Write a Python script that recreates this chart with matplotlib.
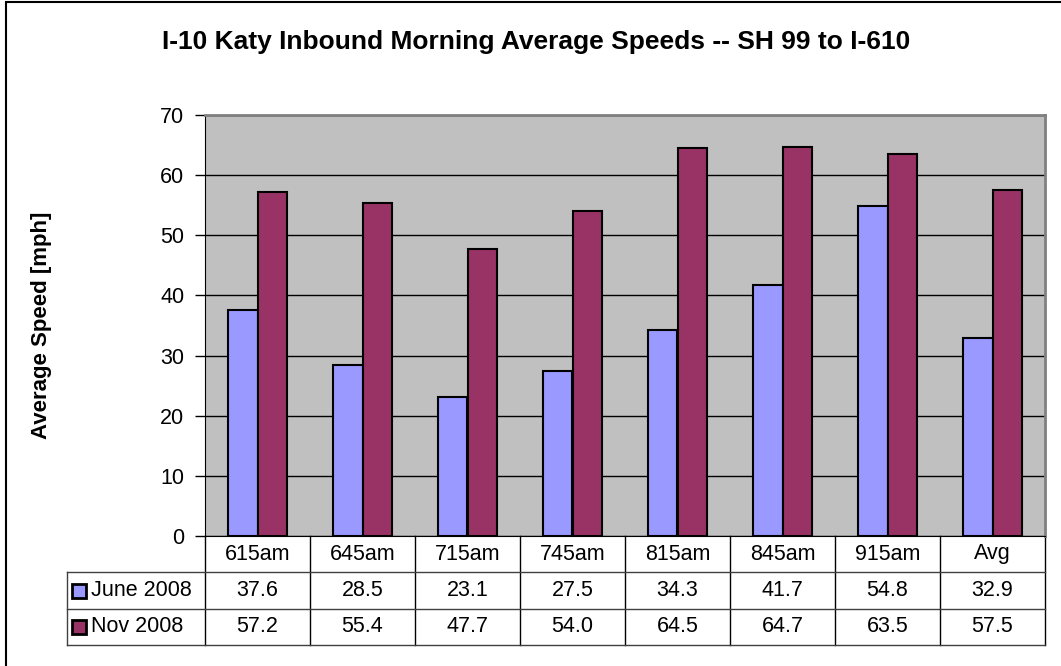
import numpy as np
import matplotlib.pyplot as plt
from matplotlib.transforms import blended_transform_factory
from matplotlib.patches import Rectangle

plt.rcParams['font.family'] = ['Liberation Sans', 'DejaVu Sans']

# dados
categorias = ['615am', '645am', '715am', '745am', '815am', '845am', '915am', 'Avg']
june_2008 = [37.6, 28.5, 23.1, 27.5, 34.3, 41.7, 54.8, 32.9]
nov_2008 = [57.2, 55.4, 47.7, 54.0, 64.5, 64.7, 63.5, 57.5]
series_nomes = ['June 2008', 'Nov 2008']
cores = ['#9999FF', '#993366']

W, H = 1061, 666
fs = 15.5
fig = plt.figure(figsize=(W / 100, H / 100), dpi=100)

# área do gráfico em pixels
px_left, px_right, px_top, px_bottom = 205, 1045, 115, 536
ax = fig.add_axes([px_left / W, 1 - px_bottom / H,
                   (px_right - px_left) / W, (px_bottom - px_top) / H])
ax.set_facecolor('#C0C0C0')

x = np.arange(len(categorias))
larg = 0.28
for i, (vals, cor) in enumerate(zip([june_2008, nov_2008], cores)):
    ax.bar(x + (i - 0.5) * larg, vals, larg, color=cor, edgecolor='black',
           linewidth=1.5, zorder=3)

ax.set_xlim(-0.5, len(categorias) - 0.5)
ax.set_ylim(0, 70)
ax.set_yticks(range(0, 71, 10))
ax.yaxis.grid(True, color='black', linewidth=1)
ax.set_axisbelow(True)
ax.set_xticks([])
ax.tick_params(axis='y', direction='out', length=7, width=1, labelsize=fs, pad=8)

for lado in ['top', 'right']:
    ax.spines[lado].set_color('#808080')
    ax.spines[lado].set_linewidth(2)
ax.spines['left'].set_color('black')
ax.spines['bottom'].set_color('black')

fig.text(42 / W, 1 - 325 / H, 'Average Speed [mph]', rotation=90,
         ha='center', va='center', fontsize=16, fontweight='bold')

fig.text(536 / W, 1 - 42 / H,
         'I-10 Katy Inbound Morning Average Speeds -- SH 99 to I-610',
         ha='center', va='center', fontsize=19, fontweight='bold')

# tabela de dados abaixo do gráfico
trans = blended_transform_factory(ax.transData, fig.transFigure)
fy = lambda py: 1 - py / H
linhas_y = [536, 572, 609, 645]
lbl_left = 67

# linhas verticais entre categorias
for k in range(len(categorias) + 1):
    xb = k - 0.5
    ax.plot([xb, xb], [fy(536), fy(645)], transform=trans, color='black',
            linewidth=1, clip_on=False)
# linhas horizontais
for py in linhas_y[1:]:
    fig.add_artist(plt.Line2D([lbl_left / W, px_right / W], [fy(py), fy(py)],
                              color='#404040', linewidth=1))
fig.add_artist(plt.Line2D([lbl_left / W, lbl_left / W], [fy(572), fy(645)],
                          color='#404040', linewidth=1))

# cabeçalho
for k, cat in enumerate(categorias):
    ax.text(k, fy((536 + 572) / 2), cat, transform=trans, ha='center',
            va='center', fontsize=fs)

# valores das séries
for r, (nome, vals, cor) in enumerate(zip(series_nomes, [june_2008, nov_2008], cores)):
    yc = fy((linhas_y[r + 1] + linhas_y[r + 2]) / 2)
    for k, v in enumerate(vals):
        ax.text(k, yc, f'{v:.1f}', transform=trans, ha='center', va='center',
                fontsize=fs)
    fig.add_artist(Rectangle((72 / W, yc - 7 / H), 14 / W, 14 / H,
                             transform=fig.transFigure, facecolor=cor,
                             edgecolor='black', linewidth=2))
    fig.text(91 / W, yc, nome, ha='left', va='center', fontsize=fs)

# borda externa
fig.add_artist(Rectangle((6 / W, -0.1), 1.2, 1 - 2 / H + 0.1,
                         transform=fig.transFigure, fill=False,
                         edgecolor='black', linewidth=1.5))

fig.savefig('out.png', dpi=100)
